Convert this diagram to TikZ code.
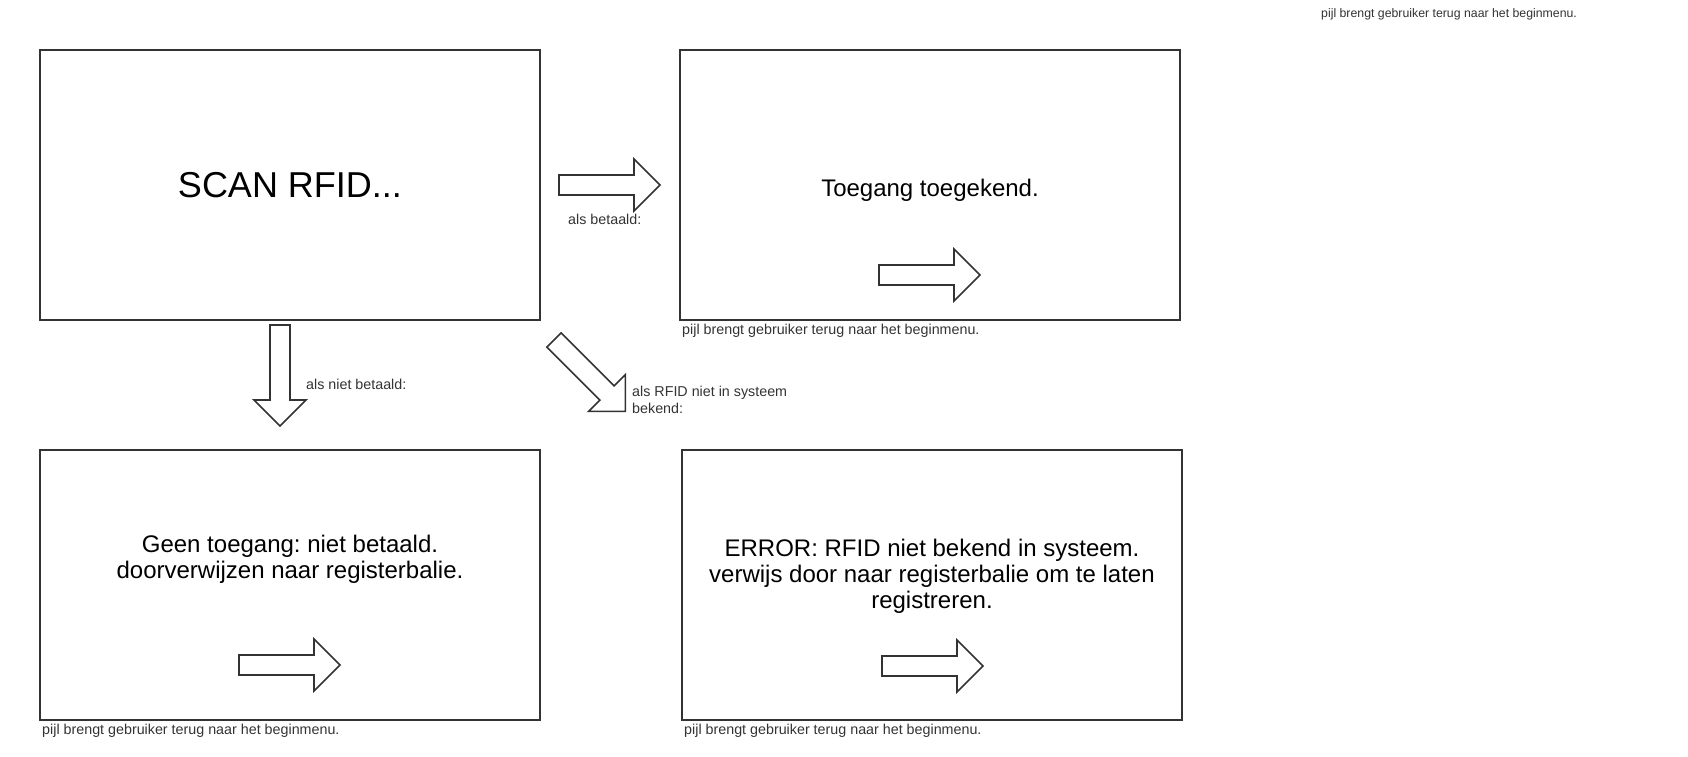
\documentclass[tikz,border=0pt]{standalone}
\usepackage{fontspec}
\setmainfont{Liberation Sans}
\usetikzlibrary{positioning}
\frenchspacing

\definecolor{lineGrey}{HTML}{333333}

\tikzset{blockArrow/.pic={
  \path[arrowLine] (0,-10) -- (75,-10) -- (75,-26) -- (101,0) -- (75,26) -- (75,10) -- (0,10) -- cycle;
}}

\begin{document}
\begin{tikzpicture}[x=1pt, y=-1pt]
  \tikzstyle{screen} = [draw=lineGrey, line width=2pt, rectangle, minimum width=500pt, minimum height=270pt, outer sep=0pt, inner sep=0pt]
  \tikzstyle{bigText} = [inner sep=0pt, font={\fontsize{36}{40}\selectfont}]
  \tikzstyle{screenText} = [inner sep=0pt, align=center, font={\fontsize{24}{26}\selectfont}]
  \tikzstyle{smallText} = [inner sep=0pt, align=left, text=lineGrey, font={\fontsize{14.3}{16.7}\selectfont}]
  \tikzstyle{arrowLine} = [draw=lineGrey, line width=1.6pt, fill=white, line join=miter]

  \useasboundingbox (0,0) rectangle (1688,756);

  % the four screens
  \node[screen] (scan) at (290,185) {};
  \node[screen] (granted) [right=140pt of scan] {};
  \node[screen] (unpaid) [below=130pt of scan] {};
  \node[screen] (unknown) [right=142pt of unpaid] {};

  \node[bigText, anchor=base] (scanText) at ([yshift=-12.5pt]scan.center) {SCAN RFID...};
  \node[screenText, anchor=base] (grantedText) at ([yshift=-11.7pt]granted.center) {Toegang toegekend.};
  \node[screenText, anchor=north] (unpaidText) at ([yshift=-84.5pt]unpaid.north) {Geen toegang: niet betaald.\\doorverwijzen naar registerbalie.};
  \node[screenText, anchor=north] (unknownText) at ([yshift=-88.5pt]unknown.north) {ERROR: RFID niet bekend in systeem.\\verwijs door naar registerbalie om te laten\\registreren.};

  % block arrows between the screens
  \pic at (559,185) {blockArrow};
  \pic[rotate=-90] at (280,325) {blockArrow};
  \pic[rotate=-45] at (554,340) {blockArrow};

  \node[smallText, anchor=base west] (paidLabel) at (568,224) {als betaald:};
  \node[smallText, anchor=base west] (unpaidLabel) at (306,389) {als niet betaald:};
  \node[smallText, anchor=north west] (unknownLabel) at (632,385.8) {als RFID niet in systeem\\bekend:};

  % back arrows inside the screens
  \pic at (879,275) {blockArrow};
  \pic at (239,665) {blockArrow};
  \pic at (882,666) {blockArrow};

  \node[smallText, anchor=base west] (grantedNote) at ([xshift=2pt, yshift=-14pt]granted.south west) {pijl brengt gebruiker terug naar het beginmenu.};
  \node[smallText, anchor=base west] (unpaidNote) at ([xshift=2pt, yshift=-14pt]unpaid.south west) {pijl brengt gebruiker terug naar het beginmenu.};
  \node[smallText, anchor=base west] (unknownNote) at ([xshift=2pt, yshift=-14pt]unknown.south west) {pijl brengt gebruiker terug naar het beginmenu.};
  \node[smallText, anchor=base west, font={\fontsize{12.3}{14}\selectfont}] (topNote) at (1321,17.3) {pijl brengt gebruiker terug naar het beginmenu.};
\end{tikzpicture}
\end{document}
